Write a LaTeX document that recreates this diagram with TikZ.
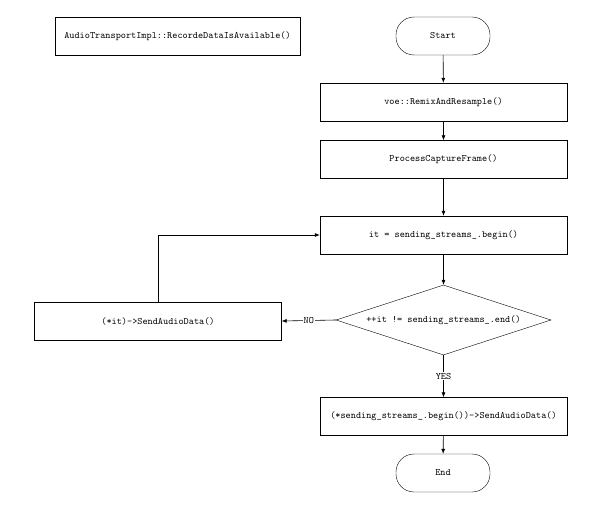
\documentclass[tikz,border=0pt]{standalone}
\usepackage{fontspec}
\usetikzlibrary{shapes.geometric,arrows.meta}

\begin{document}
\begin{tikzpicture}[x=1pt,y=-1pt]
  \tikzstyle{stepbox}=[draw, minimum width=247pt, minimum height=38pt, inner sep=0pt, font=\ttfamily\fontsize{9.8}{11}\selectfont]
  \tikzstyle{termbox}=[draw, rounded corners=18pt, minimum width=94pt, minimum height=38pt, inner sep=0pt, font=\ttfamily\fontsize{9.8}{11}\selectfont]
  \tikzstyle{testbox}=[draw, diamond, aspect=3, minimum width=215pt, minimum height=70pt, inner sep=0pt, font=\ttfamily\fontsize{9.8}{11}\selectfont]
  \tikzstyle{flow}=[-{Latex[length=5pt,width=4pt]}, line width=0.6pt]
  \tikzstyle{tag}=[fill=white, inner sep=1pt, font=\ttfamily\fontsize{9.8}{11}\selectfont]
  \useasboundingbox (0,0) rectangle (598,519);
  \node[stepbox, minimum width=245pt] (title) at (177.5,36) {AudioTransportImpl::RecordeDataIsAvailable()};
  \node[termbox] (start) at (443,36) {Start};
  \node[stepbox] (remix) at (443.5,102) {voe::RemixAndResample()};
  \node[stepbox] (capture) at (443.5,159.5) {ProcessCaptureFrame()};
  \node[stepbox] (itbegin) at (443.5,235) {it = sending\_streams\_.begin()};
  \node[testbox] (cond) at (443.5,320) {++it != sending\_streams\_.end()};
  \node[stepbox] (sendit) at (158,321) {(*it)->SendAudioData()};
  \node[stepbox] (sendfirst) at (443.5,416.5) {(*sending\_streams\_.begin())->SendAudioData()};
  \node[termbox] (stop) at (443,473) {End};
  \draw[flow] (start) -- (remix);
  \draw[flow] (remix) -- (capture);
  \draw[flow] (capture) -- (itbegin);
  \draw[flow] (itbegin) -- (cond);
  \draw[flow] (cond.west) -- node[tag] {NO} (sendit.east);
  \draw[flow] (sendit.north) |- (itbegin.west);
  \draw[flow] (cond.south) -- node[tag] {YES} (sendfirst);
  \draw[flow] (sendfirst) -- (stop);
\end{tikzpicture}
\end{document}
